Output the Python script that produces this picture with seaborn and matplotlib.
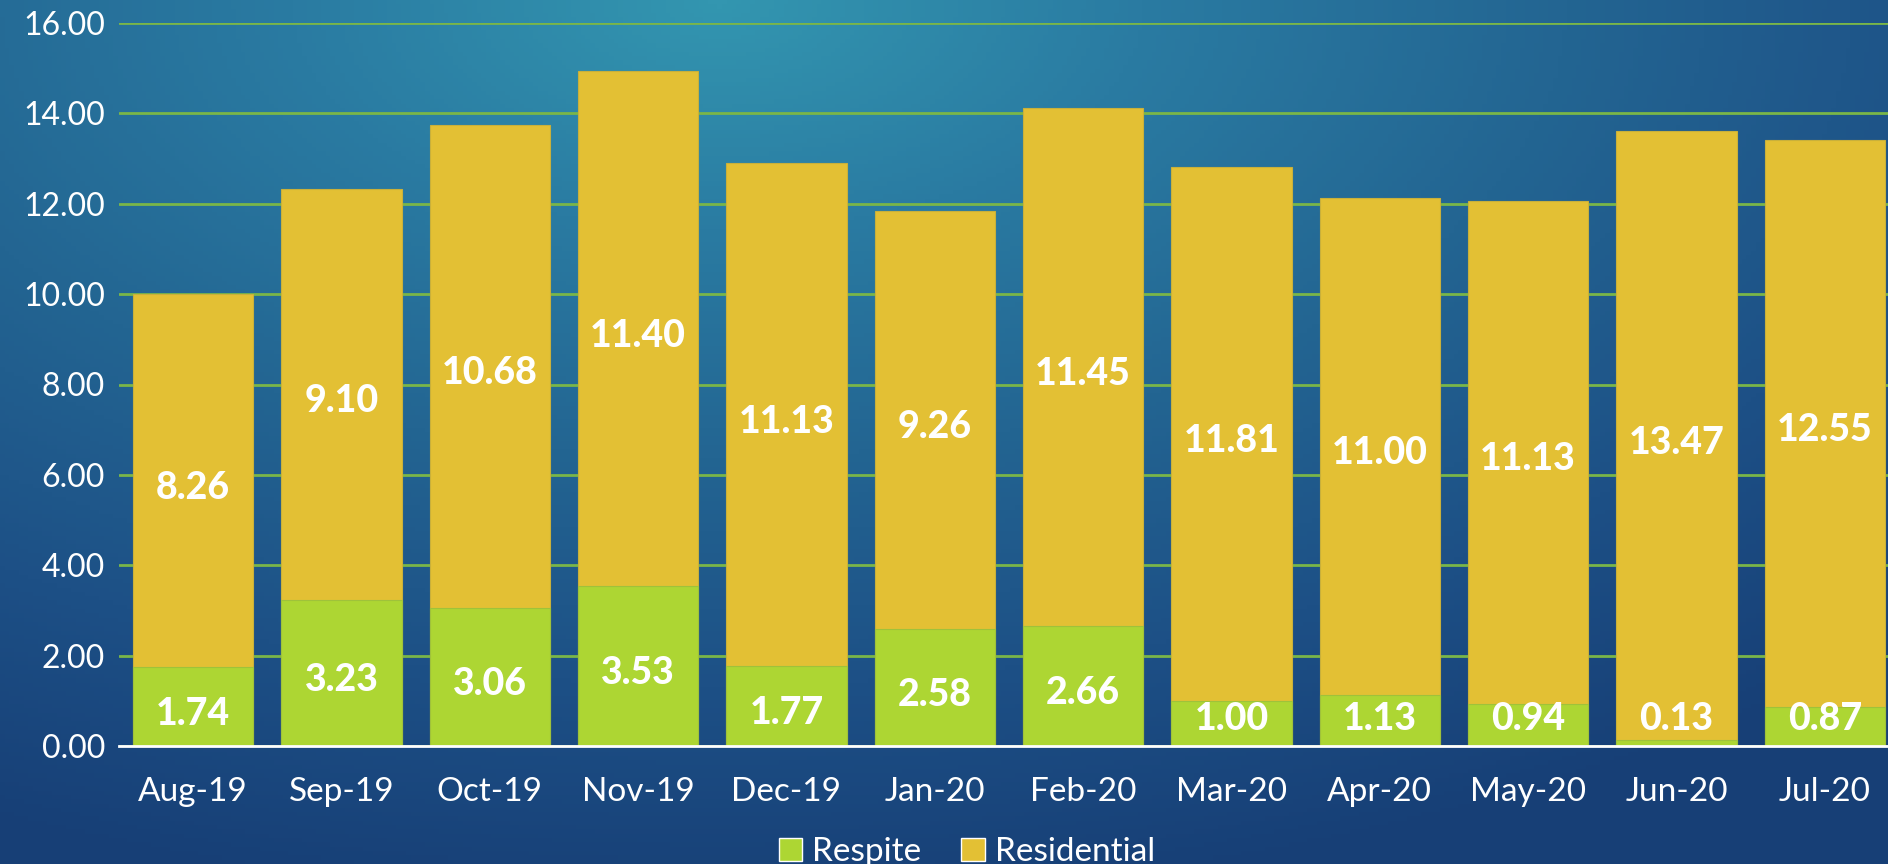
import numpy as np
import pandas as pd
import matplotlib
matplotlib.use("Agg")
import matplotlib.pyplot as plt
import matplotlib.transforms as mtransforms
from matplotlib.colors import LinearSegmentedColormap
from matplotlib.patches import Patch
import seaborn as sns

months = ["Aug-19", "Sep-19", "Oct-19", "Nov-19", "Dec-19", "Jan-20",
          "Feb-20", "Mar-20", "Apr-20", "May-20", "Jun-20", "Jul-20"]
respite = [1.74, 3.23, 3.06, 3.53, 1.77, 2.58, 2.66, 1.00, 1.13, 0.94, 0.13, 0.87]
residential = [8.26, 9.10, 10.68, 11.40, 11.13, 9.26, 11.45, 11.81, 11.00, 11.13, 13.47, 12.55]
yticks = [0, 2, 4, 6, 8, 10, 12, 14, 16]

df = pd.DataFrame({"month": months, "Respite": respite, "Residential": residential})
df["total"] = df["Respite"] + df["Residential"]

sns.set_theme(style="white")
plt.rcParams["font.family"] = ["Lato", "DejaVu Sans"]

W, H = 1888, 864
fig = plt.figure(figsize=(W / 100, H / 100), dpi=100)

# background gradient
bg = fig.add_axes([0, 0, 1, 1], zorder=0)
bg.axis("off")
yy, xx = np.mgrid[0:1:200j, 0:1:400j]
d = np.sqrt(((xx - 0.38) * 1.0) ** 2 + ((yy - 0.0) * 0.85) ** 2)
cmap = LinearSegmentedColormap.from_list("bgc", ["#3396b0", "#2a7ba2", "#236592", "#1d5086", "#173f76"])
bg.imshow(np.clip(d / 0.9, 0, 1), cmap=cmap, aspect="auto", extent=[0, 1, 1, 0])
bg.set_xlim(0, 1); bg.set_ylim(1, 0)

left = 119 / W
right = 1899 / W
bottom = 1 - 746 / H
top = 1 - 23 / H
ax = fig.add_axes([left, bottom, right - left, top - bottom], zorder=1)
ax.patch.set_alpha(0)

yellow = "#e3c034"
green = "#add633"
sns.barplot(data=df, x="month", y="total", color=yellow, width=0.81, ax=ax,
            saturation=1, edgecolor="#c9b03a", linewidth=0.8, zorder=2)
sns.barplot(data=df, x="month", y="Respite", color=green, width=0.81, ax=ax,
            saturation=1, edgecolor="#9fc23a", linewidth=0.8, zorder=3)

ax.set_ylim(0, 16)
ax.set_xlim(-0.5, len(months) - 0.5)
ax.set_yticks(yticks)
ax.set_yticklabels([f"{v:.2f}" for v in yticks])
ax.yaxis.grid(True, color="#7ab648", linewidth=2, zorder=0)
ax.set_axisbelow(True)
ax.set_xlabel("")
ax.set_ylabel("")
for s in ["top", "right", "left"]:
    ax.spines[s].set_visible(False)
ax.spines["bottom"].set_color("white")
ax.spines["bottom"].set_linewidth(2)
ax.spines["bottom"].set_zorder(5)
ax.tick_params(axis="x", length=0, colors="white", labelsize=24, pad=22)
ax.tick_params(axis="y", length=0, colors="white", labelsize=23, pad=10)

off = mtransforms.offset_copy(ax.transData, fig=fig, x=0, y=-7, units="dots")
for i, (r, s) in enumerate(zip(respite, residential)):
    ax.text(i, s / 2 + r, f"{s:.2f}", ha="center", va="center", color="white",
            fontsize=27, fontweight="black", zorder=6, transform=off)
    ax.text(i, max(r / 2, 0.75), f"{r:.2f}", ha="center", va="center", color="white",
            fontsize=27, fontweight="black", zorder=6, transform=off)

handles = [Patch(facecolor=green, label="Respite"), Patch(facecolor=yellow, label="Residential")]
fig.legend(handles=handles, loc="center", bbox_to_anchor=(967 / W, 1 - 852 / H), ncol=2,
           frameon=False, labelcolor="white", fontsize=24, handlelength=0.7,
           handleheight=0.7, handletextpad=0.3, columnspacing=1.2)

fig.savefig("out.png", dpi=100)
